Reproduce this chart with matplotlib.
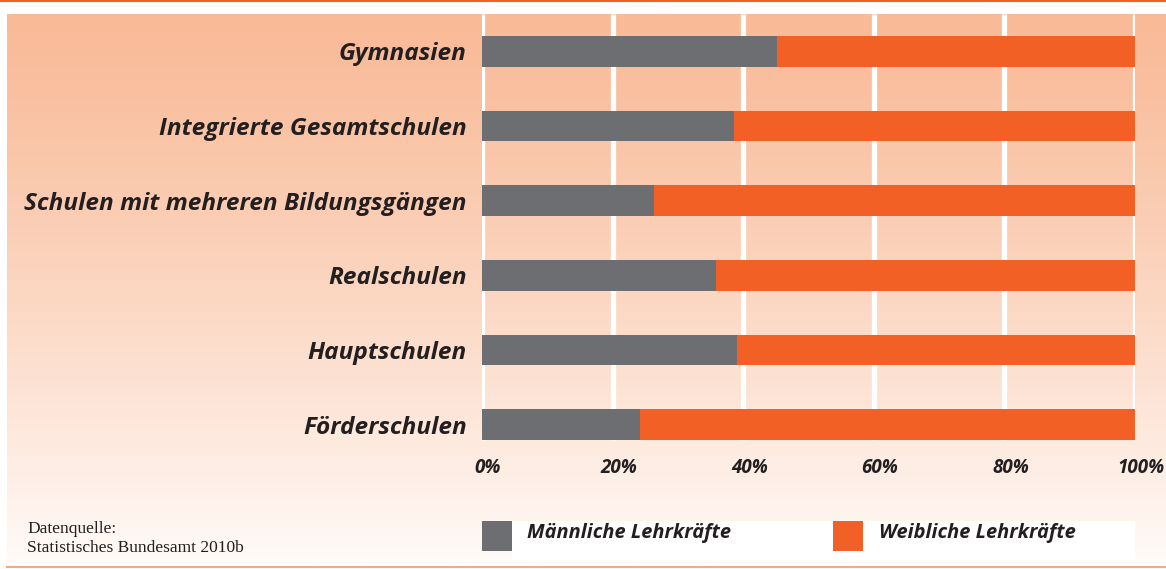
import matplotlib.pyplot as plt
import numpy as np
from matplotlib.patches import Rectangle

# data (share of male teachers, percent)
schools = ["Gymnasien", "Integrierte Gesamtschulen",
           "Schulen mit mehreren Bildungsgängen", "Realschulen",
           "Hauptschulen", "Förderschulen"]
male = [45.2, 38.6, 26.3, 35.8, 39.0, 24.2]
female = [100 - m for m in male]
ticks = [0, 20, 40, 60, 80, 100]
tick_labels = ["0%", "20%", "40%", "60%", "80%", "100%"]
legend_labels = ["Männliche Lehrkräfte", "Weibliche Lehrkräfte"]

GRAY = "#6d6e71"
ORANGE = "#f26026"
TXT = "#231f20"
FONT = "Open Sans"
W, H = 1166, 569

fig = plt.figure(figsize=(W / 100, H / 100), dpi=100)

# background layer in pixel coords
bg = fig.add_axes([0, 0, 1, 1])
bg.set_xlim(0, W)
bg.set_ylim(H, 0)
bg.axis("off")
top = np.array([249, 186, 151]) / 255
bot = np.array([255, 251, 248]) / 255
t = np.linspace(0, 1, 256) ** 1.2
grad = (top[None, :] * (1 - t[:, None]) + bot[None, :] * t[:, None])[:, None, :]
bg.imshow(grad, extent=[7, W, 564, 14], aspect="auto", interpolation="bilinear")
bg.plot([0, W], [1, 1], color=ORANGE, lw=1.5)
bg.plot([7, W], [567, 567], color="#f9a882", lw=1.5)
bg.text(27, 529, "Datenquelle:", family="Liberation Serif", fontsize=12.5,
        color=TXT, va="center")
bg.text(27, 548, "Statistisches Bundesamt 2010b", family="Liberation Serif",
        fontsize=12.5, color=TXT, va="center")

# legend
bg.add_patch(Rectangle((512, 521), 623, 39, color="white", lw=0))
bg.add_patch(Rectangle((482, 521), 30, 30, color=GRAY, lw=0))
bg.add_patch(Rectangle((833, 521), 30, 30, color=ORANGE, lw=0))
bg.text(527, 533, legend_labels[0], family=FONT, weight="bold",
        style="italic", fontsize=14.4, color=TXT, va="center")
bg.text(879, 533, legend_labels[1], family=FONT, weight="bold",
        style="italic", fontsize=14.4, color=TXT, va="center")

# bar chart
ax = fig.add_axes([482 / W, 1 - 462 / H, 653 / W, 448 / H])
ax.patch.set_alpha(0)
y = np.arange(len(schools))
bh = 0.415
ax.vlines(ticks, -0.5, y[-1] + bh / 2, color="white", lw=3.8, zorder=1)
ax.barh(y, male, height=bh, color=GRAY, zorder=2)
ax.barh(y, female, left=male, height=bh, color=ORANGE, zorder=2)
ax.set_xlim(0, 100)
ax.set_ylim(5.5, -0.5)
ax.set_yticks(y)
ax.set_yticklabels(schools, family=FONT, weight="bold", style="italic",
                   fontsize=17.6, color=TXT)
ax.tick_params(axis="y", length=0, pad=11)
ax.set_xticks([])
for s in ax.spines.values():
    s.set_visible(False)
for tk, lb in zip(ticks, tick_labels):
    ax.annotate(lb, xy=(tk, 0), xycoords=("data", "axes fraction"),
                xytext=(6, 4), textcoords="offset pixels", ha="center",
                va="top", family=FONT, weight="bold", style="italic",
                fontsize=13.5, color=TXT)

fig.savefig("out.png", dpi=100)
